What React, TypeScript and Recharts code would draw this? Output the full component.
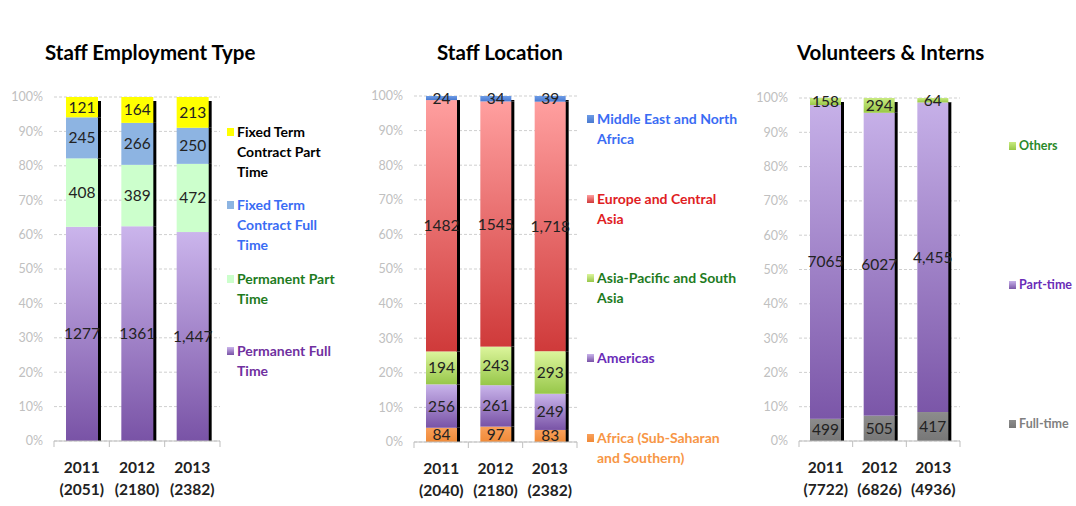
import { BarChart, Bar, XAxis, YAxis, CartesianGrid, LabelList } from 'recharts'

const years = ['2011', '2012', '2013']
const commaYears = ['2013']
const pctTicks = [0, 0.1, 0.2, 0.3, 0.4, 0.5, 0.6, 0.7, 0.8, 0.9, 1]

// Staff employment type (bottom to top)
const permFullTime = [1277, 1361, 1447]
const permPartTime = [408, 389, 472]
const fixedFullTime = [245, 266, 250]
const fixedPartTime = [121, 164, 213]

// Staff location (bottom to top)
const africa = [84, 97, 83]
const americas = [256, 261, 249]
const asiaPacific = [194, 243, 293]
const europeCentralAsia = [1482, 1545, 1718]
const middleEast = [24, 34, 39]

// Volunteers & interns (bottom to top)
const volFullTime = [499, 505, 417]
const volPartTime = [7065, 6027, 4455]
const volOthers = [158, 294, 64]

const FONT = 'Lato, "Open Sans", sans-serif'

interface Series {
  key: string
  values: number[]
  legend: string[]
  top: string
  bottom: string
  text: string
  legendY: number
}

interface PanelProps {
  id: string
  title: string
  titleLeft: number
  left: number
  width: number
  plotLeft: number
  plotRight: number
  plotTop: number
  plotBottom: number
  barSize: number
  legendLeft: number
  legendFontSize: number
  series: Series[]
}

const fmt = (year: string, v: number) => (commaYears.includes(year) ? v.toLocaleString('en-US') : String(v))

const shadowShape = (isTop: boolean) => (p: any) => {
  const { x, y, width, height, fill } = p
  const off = isTop ? 4 : 0
  return (
    <g>
      {height > off && <rect x={x + width - 0.5} y={y + off} width={3.5} height={height - off} fill="#000" />}
      <rect x={x} y={y} width={width} height={height} fill={fill} />
    </g>
  )
}

function Panel(props: PanelProps) {
  const { id, title, titleLeft, left, width, plotLeft, plotRight, plotTop, plotBottom, barSize, legendLeft, legendFontSize, series } = props
  const H = 506
  const rows = years.map((year, i) => {
    const row: Record<string, any> = { year, total: series.reduce((a, s) => a + s.values[i], 0) }
    series.forEach((s) => {
      row[s.key] = s.values[i]
      row[s.key + 'Label'] = fmt(year, s.values[i])
    })
    return row
  })
  const band = (plotRight - plotLeft) / years.length

  const YearTick = (p: any) => {
    const { x, y, payload, index } = p
    const row = rows.find((r) => r.year === payload.value)
    return (
      <g>
        <line x1={x - band / 2} x2={x - band / 2} y1={y} y2={y + 6} stroke="#bfbfbf" />
        {index === years.length - 1 && <line x1={x + band / 2} x2={x + band / 2} y1={y} y2={y + 6} stroke="#bfbfbf" />}
        <text x={x} y={y + 32} textAnchor="middle" fontFamily={FONT} fontWeight={700} fontSize={15.5} fill="#222">
          {payload.value}
        </text>
        <text x={x} y={y + 54} textAnchor="middle" fontFamily={FONT} fontWeight={700} fontSize={15.5} fill="#222">
          ({row?.total})
        </text>
      </g>
    )
  }

  return (
    <>
      <div
        style={{ position: 'absolute', left: titleLeft, top: 40, fontFamily: FONT, fontWeight: 700, fontSize: 20.5, lineHeight: '24px', color: '#000', whiteSpace: 'nowrap' }}
      >
        {title}
      </div>
      <div style={{ position: 'absolute', left, top: 0 }}>
        <BarChart
          width={width}
          height={H}
          data={rows}
          stackOffset="expand"
          barSize={barSize}
          margin={{ top: plotTop, right: left + width - plotRight, bottom: 0, left: 0 }}
        >
          <defs>
            {series.map((s) => (
              <linearGradient key={s.key} id={`${id}-${s.key}`} x1="0" y1="0" x2="0" y2="1">
                <stop offset="0%" stopColor={s.top} />
                <stop offset="100%" stopColor={s.bottom} />
              </linearGradient>
            ))}
          </defs>
          <CartesianGrid vertical={false} stroke="#cfcfcf" strokeDasharray="3 2" />
          <XAxis
            dataKey="year"
            height={H - plotBottom}
            axisLine={{ stroke: '#bfbfbf' }}
            tickLine={false}
            tickSize={0}
            tickMargin={0}
            tick={YearTick}
            interval={0}
          />
          <YAxis
            width={plotLeft - left}
            domain={[0, 1]}
            ticks={pctTicks}
            tickFormatter={(v: number) => `${Math.round(v * 100)}%`}
            axisLine={false}
            tickLine={false}
            tickMargin={5}
            tick={{ fill: '#c0c0c0', fontSize: 12.5, fontFamily: FONT }}
          />
          {series.map((s, i) => (
            <Bar
              key={s.key}
              dataKey={s.key}
              stackId="a"
              fill={`url(#${id}-${s.key})`}
              isAnimationActive={false}
              shape={shadowShape(i === series.length - 1)}
            >
              <LabelList dataKey={s.key + 'Label'} position="center" fill="#222" fontSize={15.5} fontFamily={FONT} />
            </Bar>
          ))}
        </BarChart>
      </div>
      {[...series].reverse().map((s) => (
        <div key={s.key} style={{ position: 'absolute', left: legendLeft, top: s.legendY - 10, fontFamily: FONT, fontWeight: 700, fontSize: legendFontSize, lineHeight: '20px', color: s.text, whiteSpace: 'nowrap' }}>
          <div style={{ position: 'absolute', left: 0, top: 6, width: 7, height: 8, background: `linear-gradient(${s.top}, ${s.bottom})` }} />
          <div style={{ marginLeft: 10 }}>
            {s.legend.map((line, j) => (
              <div key={j}>{line}</div>
            ))}
          </div>
        </div>
      ))}
    </>
  )
}

const employmentSeries: Series[] = [
  { key: 'permFull', values: permFullTime, legend: ['Permanent Full', 'Time'], top: '#cbb5ec', bottom: '#7953a6', text: '#7030a0', legendY: 351 },
  { key: 'permPart', values: permPartTime, legend: ['Permanent Part', 'Time'], top: '#ccffcc', bottom: '#ccffcc', text: '#1e7b1e', legendY: 279 },
  { key: 'fixedFull', values: fixedFullTime, legend: ['Fixed Term', 'Contract Full', 'Time'], top: '#8db4e2', bottom: '#8db4e2', text: '#3a6cf4', legendY: 205 },
  { key: 'fixedPart', values: fixedPartTime, legend: ['Fixed Term', 'Contract Part', 'Time'], top: '#ffff00', bottom: '#ffff00', text: '#000000', legendY: 132 },
]

const locationSeries: Series[] = [
  { key: 'africa', values: africa, legend: ['Africa (Sub-Saharan', 'and Southern)'], top: '#f9a05a', bottom: '#f08a38', text: '#f79646', legendY: 438 },
  { key: 'americas', values: americas, legend: ['Americas'], top: '#c9b4eb', bottom: '#7953a6', text: '#6a2cb8', legendY: 358 },
  { key: 'asiaPacific', values: asiaPacific, legend: ['Asia-Pacific and South', 'Asia'], top: '#dcf59c', bottom: '#97c74a', text: '#1e7b1e', legendY: 278 },
  { key: 'europe', values: europeCentralAsia, legend: ['Europe and Central', 'Asia'], top: '#ff9f9f', bottom: '#cf3a3a', text: '#e0201f', legendY: 199 },
  { key: 'mena', values: middleEast, legend: ['Middle East and North', 'Africa'], top: '#6c9be6', bottom: '#4a7ad0', text: '#3a6cf4', legendY: 119 },
]

const volunteerSeries: Series[] = [
  { key: 'full', values: volFullTime, legend: ['Full-time'], top: '#8c8c8c', bottom: '#777777', text: '#7f7f7f', legendY: 424 },
  { key: 'part', values: volPartTime, legend: ['Part-time'], top: '#c6b0e8', bottom: '#7b56a8', text: '#6a2cb8', legendY: 285 },
  { key: 'others', values: volOthers, legend: ['Others'], top: '#c8ea80', bottom: '#98c846', text: '#2a8a2a', legendY: 146 },
]

export default function App() {
  return (
    <div style={{ position: 'absolute', left: 0, top: 0, width: 1076, height: 506, background: '#fff', overflow: 'hidden' }}>
      <Panel
        id="emp"
        title="Staff Employment Type"
        titleLeft={45}
        left={0}
        width={360}
        plotLeft={54}
        plotRight={220}
        plotTop={97}
        plotBottom={441}
        barSize={32}
        legendLeft={227}
        legendFontSize={14}
        series={employmentSeries}
      />
      <Panel
        id="loc"
        title="Staff Location"
        titleLeft={437}
        left={360}
        width={380}
        plotLeft={414}
        plotRight={577}
        plotTop={96}
        plotBottom={442}
        barSize={31}
        legendLeft={587}
        legendFontSize={14}
        series={locationSeries}
      />
      <Panel
        id="vol"
        title="Volunteers & Interns"
        titleLeft={797}
        left={740}
        width={336}
        plotLeft={799}
        plotRight={960}
        plotTop={98}
        plotBottom={441}
        barSize={31}
        legendLeft={1009}
        legendFontSize={12.5}
        series={volunteerSeries}
      />
    </div>
  )
}
